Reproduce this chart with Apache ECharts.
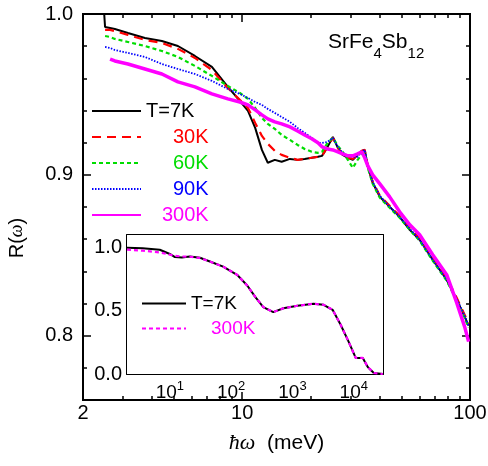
<!DOCTYPE html>
<html>
<head>
<meta charset="utf-8">
<script src="https://cdn.jsdelivr.net/npm/echarts@6/dist/echarts.min.js"></script>
<style>
  html, body { margin: 0; padding: 0; background: #fff; }
  #chart { width: 488px; height: 466px; }
</style>
</head>
<body>
<div id="chart"></div>
<script>
// main panel: R(w) of SrFe4Sb12, photon energy in meV
var energy = [2.48, 2.50, 2.63, 2.76, 3.15, 3.74, 4.44, 5.22, 6.20, 7.36, 8.65, 9.76, 10.6, 11.4, 12.2,
  12.95, 13.9, 14.9, 16.2, 17.5, 18.8, 20.2, 21.5, 22.4, 23.7, 25.0, 26.3, 27.6, 29.1, 30.6,
  32.1, 33.5, 34.5, 35.6, 37.4, 40.2, 44.4, 49.1, 54.4, 60.1, 68.6, 79.0, 87.4, 94.7, 98.6];
var r7K = [0.9994, 0.9919, 0.9913, 0.9907, 0.9882, 0.9851, 0.9832, 0.9801, 0.9739, 0.9671, 0.9547, 0.9460, 0.9398, 0.9292, 0.9155,
  0.9075, 0.9093, 0.9081, 0.9099, 0.9093, 0.9099, 0.9106, 0.9112, 0.9118, 0.9174, 0.9236, 0.9168, 0.9124, 0.9106, 0.9093,
  0.9124, 0.9149, 0.9155, 0.9050, 0.8950, 0.8863, 0.8801, 0.8739, 0.8658, 0.8596, 0.8472, 0.8348, 0.8224, 0.8118, 0.8062];
var r30K = [null, 0.9901, 0.9901, 0.9894, 0.9870, 0.9839, 0.9820, 0.9783, 0.9727, 0.9652, 0.9540, 0.9466, 0.9416, 0.9323, 0.9242,
  0.9193, 0.9149, 0.9124, 0.9106, 0.9093, 0.9099, 0.9106, 0.9112, 0.9118, 0.9174, 0.9230, 0.9168, 0.9124, 0.9106, 0.9099,
  0.9124, 0.9149, 0.9155, 0.9056, 0.8957, 0.8870, 0.8807, 0.8745, 0.8671, 0.8602, 0.8484, 0.8360, 0.8236, 0.8130, 0.8075];
var r60K = [null, 0.9863, 0.9857, 0.9845, 0.9826, 0.9801, 0.9770, 0.9733, 0.9677, 0.9615, 0.9553, 0.9509, 0.9472, 0.9416, 0.9354,
  0.9317, 0.9286, 0.9248, 0.9217, 0.9186, 0.9161, 0.9143, 0.9137, 0.9143, 0.9199, 0.9230, 0.9180, 0.9143, 0.9093, 0.9043,
  0.9093, 0.9124, 0.9137, 0.9043, 0.8944, 0.8857, 0.8795, 0.8733, 0.8658, 0.8590, 0.8466, 0.8342, 0.8217, 0.8112, 0.8050];
var r90K = [null, 0.9795, 0.9789, 0.9776, 0.9758, 0.9733, 0.9689, 0.9658, 0.9627, 0.9584, 0.9534, 0.9503, 0.9478, 0.9453, 0.9435,
  0.9410, 0.9385, 0.9360, 0.9329, 0.9292, 0.9261, 0.9230, 0.9199, 0.9199, 0.9205, 0.9230, 0.9174, 0.9137, 0.9118, 0.9112,
  0.9112, 0.9143, 0.9155, 0.9056, 0.8957, 0.8870, 0.8801, 0.8739, 0.8665, 0.8596, 0.8472, 0.8348, 0.8230, 0.8124, 0.8062];
var r300K = [null, null, 0.9720, 0.9708, 0.9689, 0.9658, 0.9627, 0.9578, 0.9547, 0.9503, 0.9472, 0.9453, 0.9435, 0.9404, 0.9373,
  0.9348, 0.9329, 0.9317, 0.9298, 0.9273, 0.9248, 0.9224, 0.9199, 0.9174, 0.9161, 0.9155, 0.9143, 0.9130, 0.9118, 0.9118,
  0.9130, 0.9143, 0.9106, 0.9056, 0.9000, 0.8944, 0.8863, 0.8770, 0.8689, 0.8627, 0.8503, 0.8379, 0.8205, 0.8056, 0.7963];

// inset: wide range
var insetEnergy = [2.0, 3.6, 6.85, 10, 12.1, 15.7, 21.2, 31, 45, 74, 125, 183, 247, 334, 487, 711,
  1206, 2206, 3218, 4520, 6111, 8270, 10770, 14030, 16940, 21250, 29800];
var inset7K = [1.0, 0.995, 0.983, 0.95, 0.925, 0.922, 0.93, 0.92, 0.89, 0.85, 0.785, 0.70, 0.61, 0.53, 0.49, 0.52,
  0.54, 0.556, 0.548, 0.508, 0.39, 0.254, 0.127, 0.127, 0.056, 0.008, 0.0];
var inset300K = [0.984, 0.976, 0.962, 0.945, 0.935, 0.93, 0.928, 0.918, 0.89, 0.85, 0.785, 0.70, 0.61, 0.53, 0.49, 0.52,
  0.54, 0.556, 0.548, 0.508, 0.39, 0.254, 0.127, 0.127, 0.056, 0.008, 0.0];

// ticks
var mainMajorX = [2, 10, 100];
var mainMinorX = [3, 4, 5, 6, 7, 8, 9, 20, 30, 40, 50, 60, 70, 80, 90];
var mainMajorY = [0.8, 0.9, 1.0];
var insetMajorX = [10, 100, 1000, 10000];
var insetMinorX = [3, 4, 5, 6, 7, 8, 9, 20, 30, 40, 50, 60, 70, 80, 90, 200, 300, 400, 500, 600, 700, 800, 900,
  2000, 3000, 4000, 5000, 6000, 7000, 8000, 9000, 20000];
var insetMajorY = [0, 0.5, 1.0];

var FONT = 'Liberation Sans, Arial, Helvetica, sans-serif';

function pairs(xs, ys) {
  var out = [];
  for (var i = 0; i < xs.length; i++) {
    if (ys[i] != null) out.push([xs[i], ys[i]]);
  }
  return out;
}

var LINE = { show: true, onZero: false, lineStyle: { color: '#000', width: 2 } };
var NOLINE = { show: false, onZero: false };

// tick-only axes, used to get long/short ticks on every side
function xTicks(grid, pos, min, max, values, len, line) {
  return {
    type: 'log', gridIndex: grid, position: pos, min: min, max: max,
    axisLine: line ? LINE : NOLINE, axisLabel: { show: false }, splitLine: { show: false },
    axisTick: { show: true, inside: true, length: len, customValues: values, lineStyle: { color: '#000', width: 1.5 } }
  };
}
function yTicks(grid, pos, min, max, interval, values, len, line) {
  var ax = {
    type: 'value', gridIndex: grid, position: pos, min: min, max: max,
    axisLine: line ? LINE : NOLINE, axisLabel: { show: false }, splitLine: { show: false },
    axisTick: { show: true, inside: true, length: len, lineStyle: { color: '#000', width: 1.5 } }
  };
  if (interval) ax.interval = interval;
  if (values) ax.axisTick.customValues = values;
  return ax;
}

var chart = echarts.init(document.getElementById('chart'));

var option = {
  animation: false,
  backgroundColor: '#fff',
  textStyle: { fontFamily: FONT },
  grid: [
    { left: 83, top: 14, right: 18, bottom: 66, outerBoundsMode: 'none', show: true, borderColor: '#000', borderWidth: 2, backgroundColor: 'transparent' },
    { left: 127, top: 235, right: 105, bottom: 92, outerBoundsMode: 'none', show: true, backgroundColor: '#fff', borderWidth: 0, z: 5 }
  ],
  xAxis: [
    {
      type: 'log', gridIndex: 0, position: 'bottom', min: 2, max: 100,
      axisLine: LINE,
      axisTick: { show: true, inside: true, length: 8, customValues: mainMajorX, lineStyle: { color: '#000', width: 1.5 } },
      axisLabel: { customValues: mainMajorX, margin: 3, fontSize: 20, color: '#000', fontFamily: FONT,
        formatter: function (v) { return String(Math.round(v)); } },
      splitLine: { show: false },
      name: '{i|ħω}  (meV)', nameLocation: 'middle', nameGap: 32,
      nameTextStyle: { fontSize: 21, color: '#000', fontFamily: FONT,
        rich: { i: { fontSize: 22, fontStyle: 'italic', fontFamily: 'Liberation Serif, serif', color: '#000' } } }
    },
    xTicks(0, 'bottom', 2, 100, mainMinorX, 4, false),
    xTicks(0, 'top', 2, 100, mainMajorX, 8, true),
    xTicks(0, 'top', 2, 100, mainMinorX, 4, false),
    {
      type: 'log', gridIndex: 1, position: 'bottom', min: 2, max: 30000,
      axisLine: LINE,
      axisTick: { show: true, inside: true, length: 7, customValues: insetMajorX, lineStyle: { color: '#000', width: 1.5 } },
      axisLabel: { customValues: insetMajorX, margin: 6, color: '#000', fontFamily: FONT,
        formatter: function (v) { return '{b|10}{p|' + Math.round(Math.log10(v)) + '}'; },
        rich: {
          b: { fontSize: 19, lineHeight: 20, padding: [3, 0, 0, 0], verticalAlign: 'top', color: '#000', fontFamily: FONT },
          p: { fontSize: 13, lineHeight: 14, verticalAlign: 'top', color: '#000', fontFamily: FONT }
        } },
      splitLine: { show: false }
    },
    xTicks(1, 'bottom', 2, 30000, insetMinorX, 4, false),
    xTicks(1, 'top', 2, 30000, insetMajorX, 7, true),
    xTicks(1, 'top', 2, 30000, insetMinorX, 4, false)
  ],
  yAxis: [
    {
      type: 'value', gridIndex: 0, position: 'left', min: 0.76, max: 1.0, interval: 0.02,
      axisLine: LINE,
      axisTick: { show: true, inside: true, length: 4, lineStyle: { color: '#000', width: 1.5 } },
      axisLabel: { customValues: mainMajorY, margin: 10, fontSize: 20, color: '#000', fontFamily: FONT,
        formatter: function (v) { return v.toFixed(1); } },
      splitLine: { show: false }
    },
    yTicks(0, 'left', 0.76, 1.0, null, mainMajorY, 8, false),
    yTicks(0, 'right', 0.76, 1.0, 0.02, null, 4, true),
    yTicks(0, 'right', 0.76, 1.0, null, mainMajorY, 8, false),
    {
      type: 'value', gridIndex: 1, position: 'left', min: 0, max: 1.1, interval: 0.1,
      axisLine: LINE,
      axisTick: { show: true, inside: true, length: 4, lineStyle: { color: '#000', width: 1.5 } },
      axisLabel: { customValues: insetMajorY, margin: 5, fontSize: 20, color: '#000', fontFamily: FONT,
        formatter: function (v) { return v.toFixed(1); } },
      splitLine: { show: false }
    },
    yTicks(1, 'left', 0, 1.1, null, insetMajorY, 7, false),
    yTicks(1, 'right', 0, 1.1, 0.1, null, 5, true),
    yTicks(1, 'right', 0, 1.1, null, insetMajorY, 7, false)
  ],
  legend: [
    {
      orient: 'vertical', left: 91, top: 101, padding: 0, itemWidth: 49, itemHeight: 14, itemGap: 6,
      selectedMode: false, z: 10,
      itemStyle: { opacity: 0 },
      data: [
        { name: 'T=7K', textStyle: { color: '#000' } },
        { name: '30K', textStyle: { color: '#ff0000' } },
        { name: '60K', textStyle: { color: '#00dd00' } },
        { name: '90K', textStyle: { color: '#0000ff' } },
        { name: '300K', textStyle: { color: '#ff00ff' } }
      ],
      formatter: function (name) {
        if (name === 'T=7K') return name;
        if (name === '300K') return '{b| }' + name;
        return '{a| }' + name;
      },
      textStyle: { fontSize: 20, lineHeight: 20, fontFamily: FONT, rich: { a: { width: 27 }, b: { width: 16 } } }
    },
    {
      orient: 'vertical', left: 141, top: 294, padding: 0, itemWidth: 44, itemHeight: 14, itemGap: 6,
      selectedMode: false, z: 10,
      itemStyle: { opacity: 0 },
      data: [
        { name: '7K inset', textStyle: { color: '#000' } },
        { name: '300K inset', textStyle: { color: '#ff00ff' } }
      ],
      formatter: function (name) {
        if (name === '7K inset') return 'T=7K';
        return '{c| }300K';
      },
      textStyle: { fontSize: 19, lineHeight: 18, fontFamily: FONT, rich: { c: { width: 20 } } }
    }
  ],
  graphic: [
    {
      type: 'text', x: 328, y: 32, z: 10,
      style: {
        text: '{n|SrFe}{s|4}{n|Sb}{s|12}',
        rich: {
          n: { fontSize: 21, lineHeight: 26, verticalAlign: 'top', fill: '#000', fontFamily: FONT },
          s: { fontSize: 15, lineHeight: 18, padding: [14, 0, 0, 0], verticalAlign: 'top', fill: '#000', fontFamily: FONT }
        }
      }
    },
    {
      type: 'text', x: 17, y: 238, rotation: Math.PI / 2, z: 10,
      style: {
        text: 'R({w|ω})', align: 'center', verticalAlign: 'middle',
        fontSize: 20, fill: '#000', fontFamily: FONT,
        rich: { w: { fontSize: 18, fontStyle: 'italic', fontFamily: 'Liberation Serif, serif', fill: '#000' } }
      }
    }
  ],
  series: [
    { name: 'T=7K', type: 'line', xAxisIndex: 0, yAxisIndex: 0, symbol: 'none', data: pairs(energy, r7K),
      lineStyle: { color: '#000', width: 2 }, itemStyle: { color: '#000' } },
    { name: '30K', type: 'line', xAxisIndex: 0, yAxisIndex: 0, symbol: 'none', data: pairs(energy, r30K),
      lineStyle: { color: '#ff0000', width: 2.2, type: [9, 6] }, itemStyle: { color: '#ff0000' } },
    { name: '60K', type: 'line', xAxisIndex: 0, yAxisIndex: 0, symbol: 'none', data: pairs(energy, r60K),
      lineStyle: { color: '#00dd00', width: 2.2, type: [4, 3] }, itemStyle: { color: '#00dd00' } },
    { name: '90K', type: 'line', xAxisIndex: 0, yAxisIndex: 0, symbol: 'none', data: pairs(energy, r90K),
      lineStyle: { color: '#0000ff', width: 1.8, type: [1.5, 1.5] }, itemStyle: { color: '#0000ff' } },
    { name: '300K', type: 'line', xAxisIndex: 0, yAxisIndex: 0, symbol: 'none', data: pairs(energy, r300K),
      lineStyle: { color: '#ff00ff', width: 3.5 }, itemStyle: { color: '#ff00ff' } },
    { name: '7K inset', type: 'line', xAxisIndex: 4, yAxisIndex: 4, symbol: 'none', z: 6, data: pairs(insetEnergy, inset7K),
      lineStyle: { color: '#000', width: 2 }, itemStyle: { color: '#000' } },
    { name: '300K inset', type: 'line', xAxisIndex: 4, yAxisIndex: 4, symbol: 'none', z: 6, data: pairs(insetEnergy, inset300K),
      lineStyle: { color: '#ff00ff', width: 2.2, type: [4, 3] }, itemStyle: { color: '#ff00ff' } }
  ]
};

chart.setOption(option);
</script>
</body>
</html>
